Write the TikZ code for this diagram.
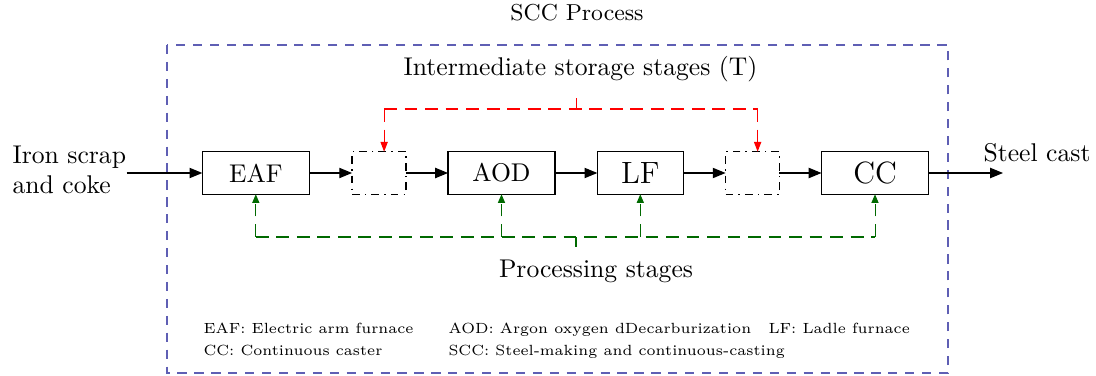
\documentclass[tikz,border=0pt]{standalone}
\usetikzlibrary{arrows.meta,calc}
\definecolor{frameblue}{RGB}{95,95,180}
\definecolor{procgreen}{RGB}{0,105,0}
\begin{document}
\begin{tikzpicture}[x=0.39pt,y=-0.39pt,
  stage/.style={draw, line width=0.55pt, minimum height=16.6pt, inner sep=0pt, outer sep=0pt},
  store/.style={stage, dash dot, minimum width=21pt},
  flow/.style={line width=0.45pt, -{Triangle[length=5pt,width=4pt]}},
  storeline/.style={red, line width=0.4pt, dash pattern=on 5pt off 3pt},
  storefeed/.style={storeline, -{Triangle[length=3.8pt,width=2.8pt]}},
  procline/.style={procgreen, line width=0.4pt, dash pattern=on 5pt off 3pt},
  procfeed/.style={procline, -{Triangle[length=3.4pt,width=2.8pt]}},
  legend/.style={anchor=base west, inner sep=0pt, font=\fontsize{5.75}{7.5}\selectfont},
  plain/.style={inner sep=0pt}]
\useasboundingbox (0,0) rectangle (1096,376);

% outer frame of the SCC process
\draw[frameblue, line width=0.45pt, dash pattern=on 3.6pt off 3pt] (167,45) rectangle (948,373);
\node[plain, anchor=base, font=\small] (scc) at (577,21) {SCC Process};

% processing and storage stages
\node[stage, minimum width=41.7pt] (EAF) at (255.8,173) {EAF};
\node[store] (T1) at (379,173) {};
\node[stage, minimum width=41.7pt] (AOD) at (501.5,173) {AOD};
\node[stage, minimum width=33.5pt, font=\large] (LF) at (640.3,173) {LF};
\node[store] (T2) at (752.5,173) {};
\node[stage, minimum width=41.7pt, font=\large] (CC) at (875,173) {CC};

% input and output
\node[plain, anchor=north west, align=left] (input) at (12,145) {Iron scrap\\and coke};
\coordinate (out) at (1003,173);
\node[plain, anchor=base west] (output) at (983,162) {Steel cast};

% main material flow
\draw[flow] (input.east |- EAF.west) -- (EAF.west);
\draw[flow] (EAF.east) -- (T1.west);
\draw[flow] (T1.east) -- (AOD.west);
\draw[flow] (AOD.east) -- (LF.west);
\draw[flow] (LF.east) -- (T2.west);
\draw[flow] (T2.east) -- (CC.west);
\draw[flow] (CC.east) -- (out);

% storage stages: stub, bus and drops
\node[plain, anchor=base] (tlabel) at (580.5,76) {Intermediate storage stages (T)};
\coordinate (tsplit) at (576.7,98.3);
\coordinate (tbus) at (576.7,109);
\coordinate (t1in) at ([xshift=2pt]T1.north);
\coordinate (t2in) at ([xshift=2pt]T2.north);
\draw[storeline] (tsplit) -- (tbus);
\draw[storeline] (t1in |- tbus) -- (t2in |- tbus);
\draw[storefeed] (t1in |- tbus) -- (t1in);
\draw[storefeed] (t2in |- tbus) -- (t2in);

% processing stages: stub, bus and risers
\node[plain, anchor=base] (plabel) at (596,278) {Processing stages};
\coordinate (psplit) at (576,247);
\coordinate (pbus) at (576,237);
\draw[procline] (psplit) -- (pbus);
\draw[procline] (EAF.south |- pbus) -- (CC.south |- pbus);
\draw[procfeed] (EAF.south |- pbus) -- (EAF.south);
\draw[procfeed] (AOD.south |- pbus) -- (AOD.south);
\draw[procfeed] (LF.south |- pbus) -- (LF.south);
\draw[procfeed] (CC.south |- pbus) -- (CC.south);

% abbreviations
\node[legend] (lgEAF) at (203,333) {EAF: Electric arm furnace};
\node[legend] (lgAOD) at (448,333) {AOD: Argon oxygen dDecarburization};
\node[legend] (lgLF) at (768,333) {LF: Ladle furnace};
\node[legend] (lgCC) at (203,355) {CC: Continuous caster};
\node[legend] (lgSCC) at (448,355) {SCC: Steel-making and continuous-casting};
\end{tikzpicture}
\end{document}
